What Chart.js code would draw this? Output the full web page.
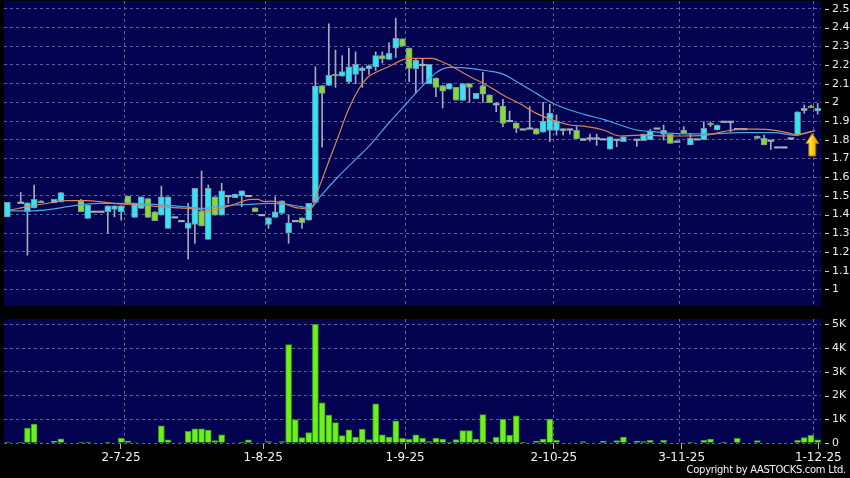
<!DOCTYPE html>
<html><head><meta charset="utf-8">
<script src="https://cdn.jsdelivr.net/npm/chart.js@4.4.0/dist/chart.umd.min.js"></script>
<style>
html,body{margin:0;padding:0;background:#000;width:850px;height:478px;overflow:hidden}
#wrap{position:relative;width:850px;height:478px}
canvas{position:absolute;left:0;top:0}
#copy{position:absolute;right:4px;top:464px;color:#f4f4f4;font:10px "DejaVu Sans";letter-spacing:-0.3px;white-space:nowrap}
</style></head><body>
<div id="wrap"><canvas id="price" width="850" height="478"></canvas><canvas id="vol" width="850" height="478"></canvas><div id="copy">Copyright by AASTOCKS.com Ltd.</div></div>
<script>
// ---- data (one slot per trading day) ----
const opens = [1.388,null,1.463,1.415,1.436,1.474,null,1.463,1.468,null,null,1.474,1.379,1.415,1.415,1.415,1.428,1.415,1.499,1.385,
1.433,1.486,1.415,1.397,1.326,1.385,1.365,1.326,1.347,1.419,1.267,1.495,1.397,1.499,1.49,1.499,1.499,1.436,1.397,1.347,
1.385,1.406,1.303,1.365,1.383,1.37,1.465,2.09,2.09,2.15,2.14,2.11,2.15,2.17,2.18,2.19,2.25,2.23,2.29,2.34,
2.29,2.18,2.2,2.1,2.13,2.09,2.07,2.08,2.01,2.1,2.02,2.09,2.04,1.99,1.98,1.9,1.89,1.855,1.86,1.86,
1.84,1.85,1.85,1.86,1.855,1.85,1.795,1.807,1.807,1.802,1.75,1.8,1.79,null,1.8,1.795,1.8,1.86,1.85,1.83,
1.79,1.85,1.772,1.802,1.8,1.888,1.852,1.896,1.896,1.857,1.857,null,1.82,1.807,1.795,1.759,1.759,1.807,1.825,1.955,
1.98,1.954];
const highs = [1.465,null,1.518,1.463,1.558,1.474,null,1.481,1.518,null,null,1.481,1.451,1.415,1.415,1.447,1.447,1.447,1.499,1.46,
1.495,1.486,1.415,1.552,1.495,1.385,1.365,1.46,1.54,1.633,1.558,1.495,1.567,1.499,1.51,1.527,1.499,1.436,1.397,1.383,
1.495,1.474,1.397,1.365,1.383,1.46,2.19,2.09,2.42,2.28,2.25,2.29,2.27,2.19,2.2,2.27,2.27,2.32,2.45,2.34,
2.29,2.23,2.23,2.2,2.13,2.09,2.1,2.08,2.1,2.1,2.05,2.16,2.04,2.0,2.016,1.953,1.89,1.855,1.977,1.86,
2.0,1.99,1.932,1.86,1.855,1.87,1.807,1.83,1.83,1.802,1.816,1.8,1.816,null,1.8,1.83,1.855,1.86,1.879,1.83,
1.79,1.87,1.834,1.802,1.896,1.896,1.879,1.896,1.896,1.857,1.857,null,1.82,1.825,1.795,1.759,1.759,1.807,1.95,1.986,
1.986,1.994];
const lows = [1.388,null,1.463,1.183,1.436,1.463,null,1.463,1.468,null,null,1.415,1.379,1.415,1.415,1.299,1.388,1.37,1.46,1.385,
1.433,1.385,1.367,1.397,1.326,1.385,1.365,1.162,1.246,1.339,1.267,1.397,1.397,1.46,1.49,1.442,1.499,1.415,1.397,1.326,
1.385,1.406,1.246,1.365,1.326,1.37,1.465,1.76,2.09,2.08,2.14,2.1,2.1,2.08,2.15,2.17,2.21,2.23,2.24,2.3,
2.11,2.05,2.1,2.1,2.03,1.97,2.07,2.012,2.01,2.0,2.02,2.0,1.998,1.95,1.87,1.9,1.838,1.855,1.86,1.83,
1.84,1.79,1.825,1.825,1.83,1.806,1.795,1.793,1.77,1.802,1.75,1.763,1.79,null,1.765,1.795,1.8,1.86,1.798,1.781,
1.79,1.834,1.772,1.802,1.8,1.87,1.852,1.896,1.843,1.857,1.857,null,1.807,1.772,1.748,1.759,1.759,1.8,1.825,1.941,
1.971,1.937];
const closes = [1.465,null,1.463,1.463,1.481,1.463,null,1.481,1.518,null,null,1.415,1.451,1.415,1.415,1.447,1.447,1.447,1.46,1.46,
1.495,1.385,1.367,1.495,1.495,1.385,1.365,1.356,1.54,1.339,1.54,1.397,1.527,1.499,1.51,1.527,1.499,1.415,1.397,1.383,
1.415,1.474,1.356,1.365,1.356,1.46,2.087,2.048,2.146,2.141,2.164,2.19,2.203,2.185,2.196,2.25,2.232,2.262,2.342,2.301,
2.182,2.226,2.2,2.203,2.08,2.06,2.101,2.012,2.101,2.08,2.048,2.044,1.998,1.99,1.888,1.9,1.861,1.855,1.86,1.83,
1.9,1.941,1.9,1.848,1.855,1.806,1.807,1.807,1.807,1.802,1.816,1.8,1.816,null,1.8,1.83,1.848,1.86,1.829,1.781,
1.79,1.834,1.807,1.802,1.861,1.879,1.879,1.896,1.896,1.857,1.857,null,1.807,1.772,1.795,1.759,1.759,1.807,1.95,1.968,
1.971,1.968];
// volume in thousands
const volumes = [0.04,0,0.04,0.63,0.8,0.02,0,0.07,0.18,0,0,0.04,0.04,0,0,0.04,0,0.21,0.08,0.02,
0,0,0,0.72,0.13,0,0.02,0.49,0.6,0.6,0.54,0.1,0.34,0,0,0.04,0.13,0,0,0.06,
0,0.06,4.15,0.99,0.23,0.44,5.0,1.69,1.18,0.86,0.31,0.56,0.25,0.59,0.14,1.65,0.34,0.25,0.93,0.2,
0.15,0.34,0.2,0.06,0.21,0.17,0.04,0.14,0.52,0.52,0.17,1.2,0.04,0.24,1.01,0.32,1.15,0.04,0,0.08,
0.17,1.01,0.11,0,0,0,0.06,0,0,0.08,0,0.1,0.25,0,0.08,0.06,0.11,0,0.11,0,
0,0,0.04,0,0.11,0.17,0,0.04,0,0.2,0,0,0.1,0,0,0,0,0,0.11,0.23,
0.32,0.13];
// moving averages (slot position, value)
const ma10Slots = [0.4,3.4,6.4,8.9,11.8,13.8,16.3,18.8,21.3,24.3,27.3,30.4,32.4,33.9,36.4,37.4,38.4,39.4,40.9,42.9,44.4,45.2,46.4,47.9,49.4,50.9,52.4,53.9,55.2,56.9,58.9,59.9,63.4,64.9,66.9,69.1,71.6,74.0,76.5,79.0,81.5,84.0,86.5,89.0,91.5,94.4,99.4,104.4,106.9,109.4,111.9,114.4,116.9,117.9,119.4,120.6];
const ma10Values = [1.424,1.445,1.463,1.474,1.474,1.469,1.458,1.452,1.446,1.438,1.432,1.421,1.438,1.455,1.481,1.481,1.469,1.472,1.463,1.438,1.431,1.424,1.531,1.674,1.816,1.959,2.066,2.137,2.164,2.19,2.226,2.235,2.235,2.217,2.182,2.137,2.092,2.039,1.994,1.941,1.905,1.879,1.87,1.852,1.82,1.825,1.82,1.825,1.843,1.857,1.857,1.852,1.834,1.825,1.838,1.848];
const ma20Slots = [0.4,3.4,6.4,8.9,11.4,13.8,16.3,18.8,21.3,26.3,29.3,31.4,33.9,36.4,38.9,41.4,43.9,45.2,46.9,49.4,51.9,54.4,56.9,59.4,61.9,63.9,65.2,66.4,69.1,71.6,74.0,76.5,79.0,81.5,84.0,86.5,89.0,91.5,94.0,96.5,99.4,104.4,109.4,114.4,117.6,118.6,120.6];
const ma20Values = [1.42,1.42,1.428,1.442,1.454,1.46,1.46,1.46,1.456,1.442,1.433,1.442,1.451,1.454,1.46,1.456,1.442,1.435,1.504,1.602,1.691,1.781,1.887,1.986,2.084,2.155,2.182,2.187,2.182,2.169,2.151,2.101,2.048,1.994,1.959,1.932,1.909,1.879,1.852,1.843,1.834,1.831,1.838,1.838,1.825,1.831,1.848];
const dateLabels = ['2-7-25','1-8-25','1-9-25','2-10-25','3-11-25','1-12-25'];
const labelSlots = [16.97,38.2,59.4,81.6,100.7,121.1];
const gridSlots = [17.5,38.5,59.4,81.5,100.4,120.4];
const priceTicks = [1.0,1.1,1.2,1.3,1.4,1.5,1.6,1.7,1.8,1.9,2.0,2.1,2.2,2.3,2.4,2.5];
const volumeTicks = [0,1,2,3,4,5];
const arrowMark = {slot:120.2, tip:1.834, base:1.713};

// ---- styles ----
const NAVY = '#020250', GRID = '#5a6396', UP = '#31e4f6', DOWN = '#86dc2c', DOJI = '#a6aebc';
const FONT = '"DejaVu Sans"';
const XMIN = -0.5, XMAX = 121.5;

const wickData = [], bodyData = [], bodyColors = [], bodyBorders = [], bodyBW = [];
opens.forEach((o, i) => {
  if (o === null) return;
  const c = closes[i], h = highs[i], l = lows[i];
  if (h > l) wickData.push({x: i, y: [l, h]});
  if (Math.abs(o - c) < 1e-9) {
    bodyData.push({x: i, y: [o - 0.004, o + 0.004]});
    bodyColors.push(DOJI); bodyBorders.push(DOJI); bodyBW.push(0);
  } else {
    bodyData.push({x: i, y: [Math.min(o, c), Math.max(o, c)]});
    bodyColors.push(c > o ? UP : DOWN); bodyBorders.push('#7d93a6'); bodyBW.push(1);
  }
});
const volData = [];
volumes.forEach((v, i) => { if (v > 0) volData.push({x: i, y: v}); });

const navyFill = {
  id: 'navyFill',
  beforeDraw(chart) {
    const {ctx, chartArea: a} = chart;
    ctx.save(); ctx.fillStyle = NAVY;
    ctx.fillRect(a.left, a.top, a.right - a.left, a.bottom - a.top);
    ctx.restore();
  }
};
const yTickMarks = {
  id: 'yTickMarks',
  afterDraw(chart) {
    const {ctx, chartArea: a} = chart, y = chart.scales.y;
    ctx.save(); ctx.strokeStyle = '#cfcfcf'; ctx.lineWidth = 1;
    y.ticks.forEach(t => {
      const py = Math.round(y.getPixelForValue(t.value)) + 0.5;
      ctx.beginPath(); ctx.moveTo(a.right + 4, py); ctx.lineTo(a.right + 8, py); ctx.stroke();
    });
    ctx.restore();
  }
};
const arrowPlugin = {
  id: 'arrowPlugin',
  afterDatasetsDraw(chart) {
    const {ctx} = chart, x = chart.scales.x, y = chart.scales.y;
    const tx = x.getPixelForValue(arrowMark.slot), ty = y.getPixelForValue(arrowMark.tip), by = y.getPixelForValue(arrowMark.base);
    const hw = 6.5, sw = 3.5, hh = 10;
    ctx.save();
    const g = ctx.createLinearGradient(tx - hw, 0, tx + hw, 0);
    g.addColorStop(0, '#fff3a0'); g.addColorStop(0.45, '#ffd21e'); g.addColorStop(1, '#d98a00');
    ctx.beginPath();
    ctx.moveTo(tx, ty); ctx.lineTo(tx + hw, ty + hh); ctx.lineTo(tx + sw, ty + hh); ctx.lineTo(tx + sw, by);
    ctx.lineTo(tx - sw, by); ctx.lineTo(tx - sw, ty + hh); ctx.lineTo(tx - hw, ty + hh); ctx.closePath();
    ctx.fillStyle = g; ctx.fill();
    ctx.strokeStyle = '#a86a00'; ctx.lineWidth = 1; ctx.stroke();
    ctx.restore();
  }
};
const noPad = s => { s.paddingTop = 0; s.paddingBottom = 0; s.paddingLeft = 0; s.paddingRight = 0; };

function gridX(showGrid) {
  return {
    type: 'linear', min: XMIN, max: XMAX, position: 'bottom', offset: false,
    afterBuildTicks: s => { s.ticks = gridSlots.map(v => ({value: v})); },
    afterFit: s => { s.height = 0; noPad(s); },
    ticks: {display: false},
    grid: {display: showGrid, color: GRID, drawTicks: false, lineWidth: 1, offset: false},
    border: {display: false, dash: [3, 3]}
  };
}

new Chart(document.getElementById('price'), {
  type: 'bar',
  data: {datasets: [
    {type: 'line', label: 'MA10', data: ma10Slots.map((s, i) => ({x: s, y: ma10Values[i]})),
      borderColor: '#dc8450', borderWidth: 1.2, pointRadius: 0, cubicInterpolationMode: 'monotone', order: 0},
    {type: 'line', label: 'MA20', data: ma20Slots.map((s, i) => ({x: s, y: ma20Values[i]})),
      borderColor: '#4aa6e6', borderWidth: 1.2, pointRadius: 0, cubicInterpolationMode: 'monotone', order: 0},
    {label: 'wick', data: wickData, backgroundColor: '#a3abba', barThickness: 1, grouped: false, order: 3},
    {label: 'body', data: bodyData, backgroundColor: bodyColors, borderColor: bodyBorders, borderWidth: bodyBW,
      borderSkipped: false, barThickness: 6, grouped: false, order: 2}
  ]},
  options: {
    responsive: false, animation: false, events: [],
    layout: {padding: {left: 4, top: 1, right: 0, bottom: 172}},
    plugins: {legend: {display: false}, tooltip: {enabled: false}},
    scales: {
      x: gridX(true),
      y: {
        type: 'linear', position: 'right', min: 0.911, max: 2.542,
        afterBuildTicks: s => { s.ticks = priceTicks.map(v => ({value: v})); },
        afterFit: s => { s.width = 29; noPad(s); },
        ticks: {color: '#ececec', font: {family: FONT, size: 11}, padding: 11,
          callback: v => String(Math.round(v * 10) / 10)},
        grid: {color: GRID, drawTicks: false},
        border: {display: false, dash: [3, 3]}
      }
    }
  },
  plugins: [navyFill, yTickMarks, arrowPlugin]
});

new Chart(document.getElementById('vol'), {
  type: 'bar',
  data: {datasets: [
    {label: 'volume', data: volData, backgroundColor: '#6cf01e', borderColor: '#3f9a12', borderWidth: 1,
      borderSkipped: 'bottom', barThickness: 6, grouped: false}
  ]},
  options: {
    responsive: false, animation: false, events: [],
    layout: {padding: {left: 4, top: 319, right: 0, bottom: 0}},
    plugins: {legend: {display: false}, tooltip: {enabled: false}},
    scales: {
      x: gridX(true),
      xl: {
        type: 'linear', position: 'bottom', min: XMIN, max: XMAX, offset: false,
        afterBuildTicks: s => { s.ticks = labelSlots.map(v => ({value: v})); },
        afterFit: s => { s.height = 35; s.paddingLeft = 0; s.paddingRight = 0; },
        ticks: {color: '#f2f2f2', font: {family: FONT, size: 12}, padding: 2, autoSkip: false, maxRotation: 0,
          callback: v => dateLabels[labelSlots.indexOf(v)]},
        grid: {drawOnChartArea: false, drawTicks: true, tickLength: 6, tickColor: '#b8b8b8', offset: false},
        border: {display: false}
      },
      y: {
        type: 'linear', position: 'right', min: 0, max: 5.23,
        afterBuildTicks: s => { s.ticks = volumeTicks.map(v => ({value: v})); },
        afterFit: s => { s.width = 29; noPad(s); },
        ticks: {color: '#ececec', font: {family: FONT, size: 11}, padding: 11,
          callback: v => v === 0 ? '0' : v + 'K'},
        grid: {color: GRID, drawTicks: false},
        border: {display: false, dash: [3, 3]}
      }
    }
  },
  plugins: [navyFill, yTickMarks]
});
</script>
</body></html>
